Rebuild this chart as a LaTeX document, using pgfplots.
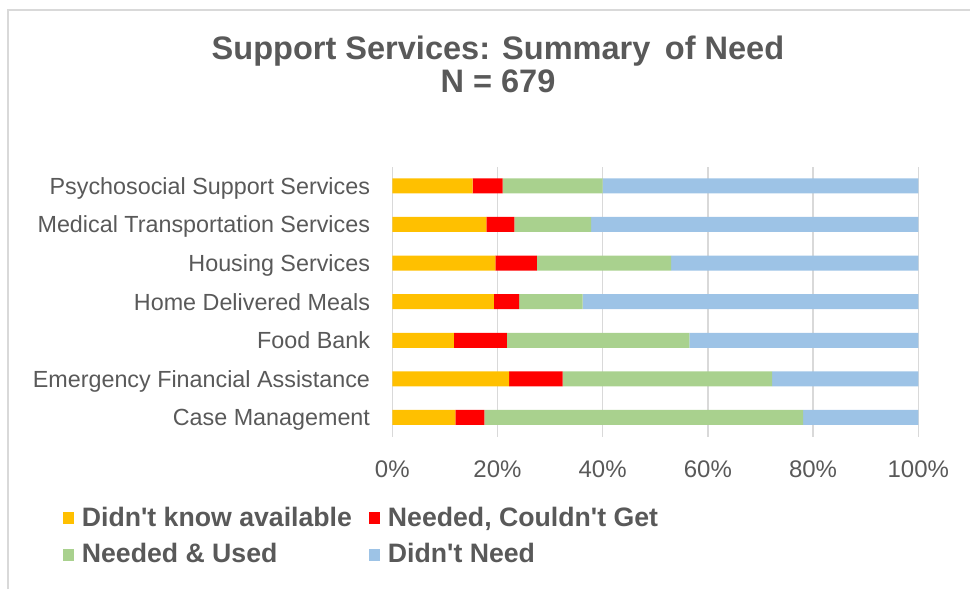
\documentclass[border=0pt]{standalone}
\usepackage{pgfplots}
\pgfplotsset{compat=1.18}
\usepackage{pgfplotstable}
\usepackage{fontspec}
\setmainfont{Liberation Sans}
\definecolor{cyellow}{HTML}{FFC000}
\definecolor{cred}{HTML}{FF0000}
\definecolor{cgreen}{HTML}{A9D18E}
\definecolor{cblue}{HTML}{9DC3E6}
\definecolor{cgrid}{HTML}{D9D9D9}
\definecolor{ctext}{HTML}{595959}
\pgfplotstableread{
y a b c d
0 12.0 5.5 60.6 21.9
1 22.2 10.2 39.8 27.8
2 11.7 10.1 34.7 43.5
3 19.3 4.8 12.1 63.8
4 19.6 7.9 25.5 47.0
5 17.9 5.3 14.6 62.2
6 15.3 5.7 19.0 60.0
}\data
\begin{document}
\begin{tikzpicture}
\useasboundingbox (0pt,0pt) rectangle (727.5pt,441.75pt);
\draw[cgrid, line width=1.1pt] (6pt,0pt) -- (6pt,434.25pt) -- (727.5pt,434.25pt);
\node[anchor=base, font=\fontsize{24.4}{28}\selectfont\bfseries, text=ctext, inner sep=0pt, text depth=0pt] at (373.5pt,396.75pt) {Support Services: Summary\, of Need};
\node[anchor=base, font=\fontsize{24.4}{28}\selectfont\bfseries, text=ctext, inner sep=0pt, text height=17pt] at (373.5pt,372.2pt) {N = 679};
\begin{axis}[
  at={(294.2pt,114.15pt)}, anchor=south west,
  scale only axis, width=394.5pt, height=202.7pt,
  xbar stacked, bar width=11.25pt,
  xmin=0, xmax=100, ymin=-0.5, ymax=6.5,
  xtick={0,20,...,100},
  xticklabel={\pgfmathprintnumber{\tick}\%},
  /pgf/number format/assume math mode=true,
  ytick={0,...,6},
  yticklabels={Case Management, Emergency Financial Assistance, Food Bank, Home Delivered Meals, Housing Services, Medical Transportation Services, Psychosocial Support Services},
  xmajorgrids, grid style={cgrid, line width=1pt},
  axis line style={draw=none},
  major tick length=0pt,
  tick style={draw=none},
  xticklabel style={font=\fontsize{18}{20}\selectfont, text=ctext, inner ysep=0pt, yshift=-18pt},
  yticklabel style={font=\fontsize{17.5}{20}\selectfont, text=ctext, inner xsep=0pt, xshift=-16.5pt, text height=12.5pt, text depth=0pt},
  legend columns=2,
  legend cell align=left,
  legend style={at={(-0.635,-0.246)}, anchor=north west, draw=none, fill=none,
    font=\fontsize{20}{22}\selectfont\bfseries, text=ctext,
    nodes={inner xsep=0pt, inner ysep=0pt, text height=15pt, text depth=4pt},
    /tikz/every even column/.append style={column sep=12.5pt},
    /tikz/every odd column/.append style={column sep=6pt},
    row sep=8.5pt},
  legend image code/.code={\fill[#1, draw=none] (0pt,-4pt) rectangle (8.5pt,5pt);},
]
\addplot[fill=cyellow, draw=none] table[x=a, y=y] {\data};
\addplot[fill=cred, draw=none] table[x=b, y=y] {\data};
\addplot[fill=cgreen, draw=none] table[x=c, y=y] {\data};
\addplot[fill=cblue, draw=none] table[x=d, y=y] {\data};
\legend{Didn\textquotesingle t know available, {Needed, Couldn\textquotesingle t Get}, Needed \& Used, Didn\textquotesingle t Need}
\end{axis}
\end{tikzpicture}
\end{document}
